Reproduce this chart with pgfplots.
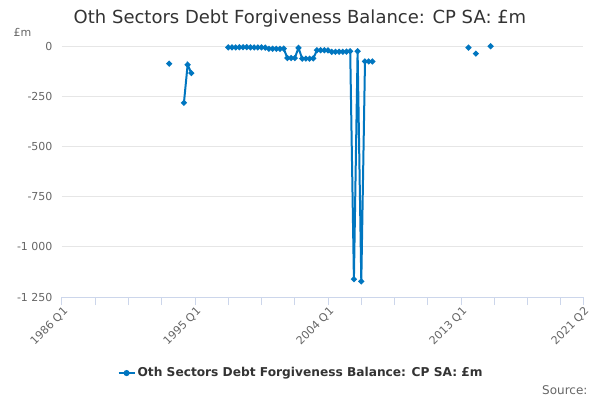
\documentclass[border=0pt]{standalone}
\usepackage{pgfplots}
\pgfplotsset{compat=1.18}
\usepackage{fontspec}
\setmainfont{DejaVu Sans}
\definecolor{ser}{RGB}{0,118,192}
\definecolor{axl}{RGB}{204,214,235}
\definecolor{grd}{RGB}{230,230,230}
\definecolor{lbl}{RGB}{102,102,102}
\definecolor{ttl}{RGB}{51,51,51}
\begin{document}
\begin{tikzpicture}
\path[use as bounding box,fill=white] (0pt,0pt) rectangle (600pt,400pt);
\node[font=\fontsize{18}{20}\selectfont,text=ttl] at (300pt,381pt) {Oth Sectors Debt Forgiveness Balance: CP SA: £m};
\node[font=\fontsize{11}{12}\selectfont,text=lbl,anchor=west] at (10pt,368pt) {£m};
\node[font=\fontsize{12}{14}\selectfont,text=lbl,anchor=east] at (591pt,10pt) {Source:};
\begin{axis}[
  at={(62pt,103pt)}, anchor=south west,
  scale only axis, width=521pt, height=251pt,
  xmin=0, xmax=141, ymin=-1250, ymax=0,
  axis x line*=bottom, axis y line*=left,
  x axis line style={draw=axl, line width=1pt, -},
  y axis line style={draw=none},
  ymajorgrids, grid style={draw=grd, line width=0.8pt},
  ytick={-1250,-1000,-750,-500,-250,0},
  yticklabels={-1 250,-1 000,-750,-500,-250,0},
  xtick={0,36,72,108,141},
  xticklabels={1986 Q1,1995 Q1,2004 Q1,2013 Q1,2021 Q2},
  minor xtick={9,18,27,45,54,63,81,90,99,117,126,135},
  xtick align=outside, major tick length=8pt, minor tick length=8pt,
  xtick style={draw=axl, line width=1pt},
  minor x tick style={draw=axl, line width=1pt},
  ytick style={draw=none},
  tick label style={font=\fontsize{11}{12}\selectfont, text=lbl},
  /pgf/number format/assume math mode=true,
  xticklabel style={rotate=45, anchor=east, yshift=-6pt, xshift=3pt},
  yticklabel style={anchor=east, xshift=-6pt},
  clip=false,
  unbounded coords=jump,
  legend style={at={(0.459,-0.303)}, anchor=center, draw=none, fill=none,
    font=\fontsize{12.2}{14}\selectfont\bfseries, text=ttl},
  legend image code/.code={\draw[ser, line width=2pt] (0pt,0pt) -- (16pt,0pt);
    \fill[ser] (8pt,0pt) circle (2pt);},
]
\addplot[ser, line width=2pt, mark=*, mark size=1.8pt, mark options={fill=ser, draw=ser}] table[row sep=\\] {
x y \\
29 -88 \\
30 nan \\
33 -283 \\
34 -93 \\
35 -135 \\
36 nan \\
45 -7 \\
46 -7 \\
47 -7 \\
48 -6 \\
49 -6 \\
50 -6 \\
51 -7 \\
52 -7 \\
53 -7 \\
54 -7 \\
55 -8 \\
56 -14 \\
57 -14 \\
58 -14 \\
59 -14 \\
60 -13 \\
61 -60 \\
62 -60 \\
63 -60 \\
64 -9 \\
65 -63 \\
66 -63 \\
67 -63 \\
68 -62 \\
69 -21 \\
70 -21 \\
71 -21 \\
72 -22 \\
73 -29 \\
74 -29 \\
75 -29 \\
76 -29 \\
77 -28 \\
78 -26 \\
79 -1161 \\
80 -26 \\
81 -1172 \\
82 -77 \\
83 -77 \\
84 -77 \\
85 nan \\
110 -8 \\
111 nan \\
112 -38 \\
113 nan \\
116 -1 \\
};
\addlegendentry{Oth Sectors Debt Forgiveness Balance: CP SA: £m}
\end{axis}
\end{tikzpicture}
\end{document}
